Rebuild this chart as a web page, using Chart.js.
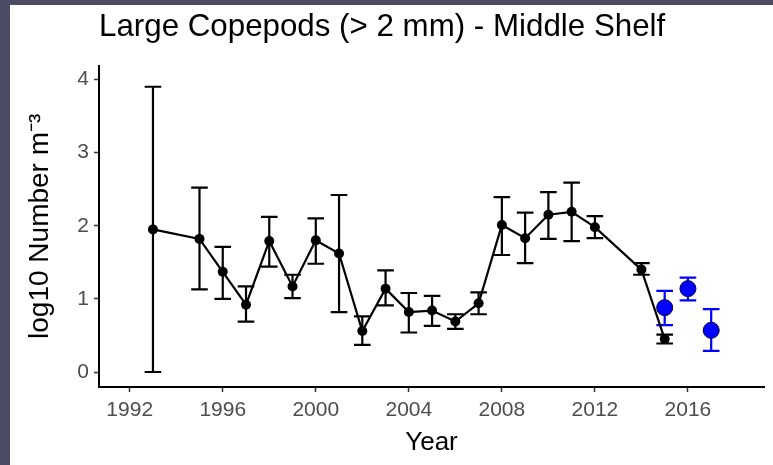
<!DOCTYPE html>
<html><head><meta charset="utf-8">
<script src="https://cdn.jsdelivr.net/npm/chart.js@4"></script>
<style>
html,body{margin:0;padding:0;background:#4b4b65;width:773px;height:465px;overflow:hidden}
#wrap{position:absolute;left:10px;top:5px;width:763px;height:460px;background:#fff}
canvas{display:block}
</style></head><body>
<div id="wrap"><canvas id="c" width="763" height="460"></canvas></div>
<script>
// Black series (survey years)
const years = [1993,1995,1996,1997,1998,1999,2000,2001,2002,2003,2004,2005,2006,2007,2008,2009,2010,2011,2012,2014,2015];
const meanVals = [1.95,1.82,1.37,0.92,1.79,1.17,1.80,1.62,0.56,1.14,0.82,0.84,0.69,0.94,2.01,1.83,2.15,2.19,1.98,1.40,0.45];
const upperVals = [3.90,2.52,1.71,1.17,2.12,1.33,2.10,2.42,0.76,1.39,1.08,1.04,0.79,1.09,2.39,2.18,2.46,2.59,2.13,1.49,0.51];
const lowerVals = [0.00,1.13,1.00,0.69,1.44,1.01,1.48,0.82,0.37,0.91,0.54,0.63,0.59,0.79,1.60,1.49,1.82,1.79,1.83,1.33,0.39];
// Blue series (recent years)
const blueYears = [2015,2016,2017];
const blueMean = [0.88,1.14,0.57];
const blueUpper = [1.11,1.29,0.86];
const blueLower = [0.64,0.98,0.29];
// Tick labels
const xTicks = [1992,1996,2000,2004,2008,2012,2016];
const yTicks = [0,1,2,3,4];

const FONT = "'Liberation Sans', Arial, sans-serif";

const errorBars = {
  id: 'errorBars',
  beforeDatasetsDraw(chart) {
    const {ctx, scales: {x, y}} = chart;
    const cap = 8.3;
    function drawSet(xs, lo, hi, color) {
      ctx.save();
      ctx.strokeStyle = color;
      ctx.lineWidth = 2.2;
      ctx.lineCap = 'butt';
      xs.forEach((xv, i) => {
        const px = x.getPixelForValue(xv);
        const pl = y.getPixelForValue(lo[i]);
        const ph = y.getPixelForValue(hi[i]);
        ctx.beginPath();
        ctx.moveTo(px, pl); ctx.lineTo(px, ph);
        ctx.moveTo(px - cap, pl); ctx.lineTo(px + cap, pl);
        ctx.moveTo(px - cap, ph); ctx.lineTo(px + cap, ph);
        ctx.stroke();
      });
      ctx.restore();
    }
    drawSet(years, lowerVals, upperVals, '#000000');
    drawSet(blueYears, blueLower, blueUpper, '#0000ff');
  }
};

new Chart(document.getElementById('c'), {
  type: 'scatter',
  data: {
    datasets: [
      {
        type: 'line',
        data: years.map((v, i) => ({x: v, y: meanVals[i]})),
        borderColor: '#000',
        borderWidth: 2.2,
        tension: 0,
        pointRadius: 5,
        pointBackgroundColor: '#000',
        pointBorderWidth: 0,
        fill: false
      },
      {
        data: blueYears.map((v, i) => ({x: v, y: blueMean[i]})),
        showLine: false,
        pointRadius: 8,
        pointBackgroundColor: '#0000ff',
        pointBorderColor: '#000033',
        pointBorderWidth: 1
      }
    ]
  },
  options: {
    responsive: false,
    animation: false,
    devicePixelRatio: 1,
    layout: {padding: {left: 0, right: 3, top: 0, bottom: 0}},
    plugins: {
      legend: {display: false},
      tooltip: {enabled: false},
      title: {
        display: true,
        text: 'Large Copepods (> 2 mm) - Middle Shelf',
        align: 'start',
        fullSize: false,
        color: '#000',
        font: {family: FONT, size: 31.3, weight: 'normal'},
        padding: {top: 4, bottom: 19}
      }
    },
    scales: {
      x: {
        type: 'linear',
        min: 1990.68,
        max: 2019.27,
        afterBuildTicks: s => { s.ticks = xTicks.map(v => ({value: v})); },
        afterFit: s => { s.height = 78; },
        grid: {drawOnChartArea: false, drawTicks: true, tickLength: 5, tickColor: '#333', tickWidth: 1.5},
        border: {color: '#000', width: 2},
        ticks: {color: '#4d4d4d', font: {family: FONT, size: 21}, padding: 6, maxRotation: 0,
                callback: v => String(v)},
        title: {display: true, text: 'Year', color: '#000', font: {family: FONT, size: 26}, padding: {top: 0, bottom: 7}}
      },
      y: {
        type: 'linear',
        min: -0.205,
        max: 4.19,
        afterBuildTicks: s => { s.ticks = yTicks.map(v => ({value: v})); },
        afterFit: s => { s.width = 89; },
        grid: {drawOnChartArea: false, drawTicks: true, tickLength: 5, tickColor: '#333', tickWidth: 1.5},
        border: {color: '#000', width: 2},
        ticks: {color: '#4d4d4d', font: {family: FONT, size: 21}, padding: 5,
                callback: v => String(v)},
        title: {display: true, text: 'log10 Number m⁻³', color: '#000', font: {family: FONT, size: 28}, padding: {top: 13, bottom: 0}}
      }
    }
  },
  plugins: [errorBars]
});
</script>
</body></html>
